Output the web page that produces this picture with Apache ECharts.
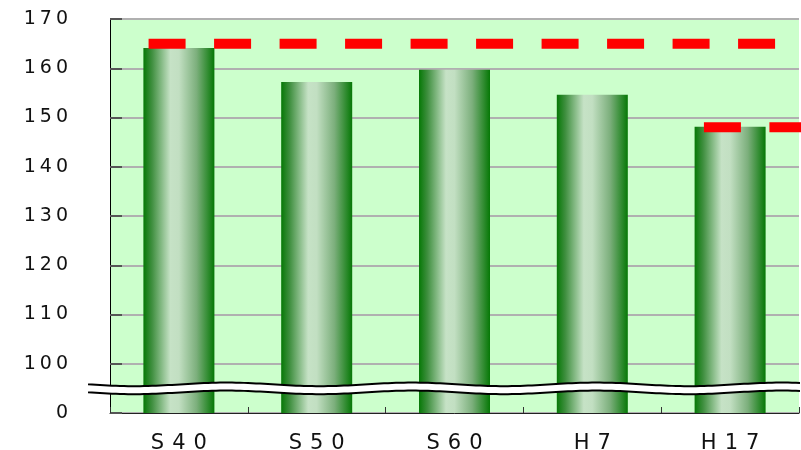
<!DOCTYPE html>
<html>
<head>
<meta charset="utf-8">
<script src="https://cdn.jsdelivr.net/npm/echarts@6/dist/echarts.min.js"></script>
<style>
html,body{margin:0;padding:0;background:#fff;}
#c{width:801px;height:450px;}
</style>
</head>
<body>
<div id="c"></div>
<script>
// ---- data ----
const categories = ['S40', 'S50', 'S60', 'H7', 'H17'];
const values = [164.1, 157.2, 159.7, 154.6, 148.1];
// reference levels (dashed red) with span in category units (0..5)
const refLevels = [165, 148];
const refFrom = [0.28, 4.31];
const refTo = [4.85, 5.2];
// y-axis ticks: the bottom tick (axis min) stands for 0 (broken axis)
const yTickValues = [90, 100, 110, 120, 130, 140, 150, 160, 170];
const yTickLabels = ['0', '100', '110', '120', '130', '140', '150', '160', '170'];
const breakValue = 95;

const chart = echarts.init(document.getElementById('c'), null, {renderer: 'canvas'});

// emulate wide letter spacing with rich-text tokens
function spaced(str, key) {
  return str.split('').map(ch => '{' + key + '|' + ch + '}').join('');
}

const barGradient = new echarts.graphic.LinearGradient(0, 0, 1, 0, [
  {offset: 0, color: '#067806'},
  {offset: 0.12, color: '#3f8f3f'},
  {offset: 0.38, color: '#c6e2c6'},
  {offset: 0.5, color: '#c2dfc2'},
  {offset: 0.75, color: '#7caf7c'},
  {offset: 1, color: '#067806'}
]);

const refSeries = refLevels.map((lv, i) => ({
  type: 'line',
  xAxisIndex: 1,
  yAxisIndex: 0,
  data: [[refFrom[i], lv], [refTo[i], lv]],
  symbol: 'none',
  silent: true,
  z: 5,
  lineStyle: {color: '#ff0000', width: 10, type: [37, 28.5], cap: 'butt'}
}));

const FONT = 'DejaVu Sans, Verdana, sans-serif';

chart.setOption({
  animation: false,
  grid: {left: 110, right: 2, top: 19, bottom: 37, show: true, backgroundColor: '#ccffcc', borderWidth: 0,
         containLabel: false, outerBoundsMode: 'none'},
  xAxis: [{
    type: 'category',
    data: categories,
    axisLine: {show: true, lineStyle: {color: '#222', width: 1}},
    axisTick: {show: true, inside: true, length: 6, lineStyle: {color: '#333'}},
    axisLabel: {
      margin: 20,
      formatter: v => spaced(v, 'x'),
      rich: {x: {fontSize: 21, color: '#111', fontFamily: FONT, padding: [0, 4, 0, 4]}}
    }
  }, {
    type: 'value', min: 0, max: 5, show: false
  }],
  yAxis: {
    type: 'value',
    min: 90, max: 170, interval: 10,
    axisLine: {show: true, lineStyle: {color: '#000', width: 1}},
    axisTick: {show: true, inside: true, length: 12, lineStyle: {color: '#555', width: 2}},
    splitLine: {show: true, lineStyle: {color: '#b0b0b0', width: 2}},
    axisLabel: {
      margin: 40,
      formatter: v => spaced(yTickLabels[yTickValues.indexOf(v)], 'y'),
      rich: {y: {fontSize: 19, color: '#111', fontFamily: FONT, padding: [0, 2, 0, 2]}}
    }
  },
  series: [{
    type: 'bar',
    data: values,
    barWidth: 71,
    itemStyle: {color: barGradient},
    z: 3
  }].concat(refSeries)
});

// broken-axis wave band
function drawBreak() {
  const yc = chart.convertToPixel({yAxisIndex: 0}, breakValue);
  const x0 = 88, x1 = 801;
  const top = [], bot = [];
  for (let x = x0; x <= x1 + 1; x += 4) {
    const w = 1.8 * Math.sin(2 * Math.PI * (x - x0) / 185);
    top.push([x, yc - 4 + w]);
    bot.push([x, yc + 4 + w]);
  }
  const poly = top.concat(bot.slice().reverse());
  chart.setOption({
    graphic: [
      {type: 'polygon', shape: {points: poly}, style: {fill: '#ffffff'}, z: 100},
      {type: 'polyline', shape: {points: top}, style: {stroke: '#000', lineWidth: 2, fill: null}, z: 101},
      {type: 'polyline', shape: {points: bot}, style: {stroke: '#000', lineWidth: 2, fill: null}, z: 101}
    ]
  });
}
drawBreak();
</script>
</body>
</html>
